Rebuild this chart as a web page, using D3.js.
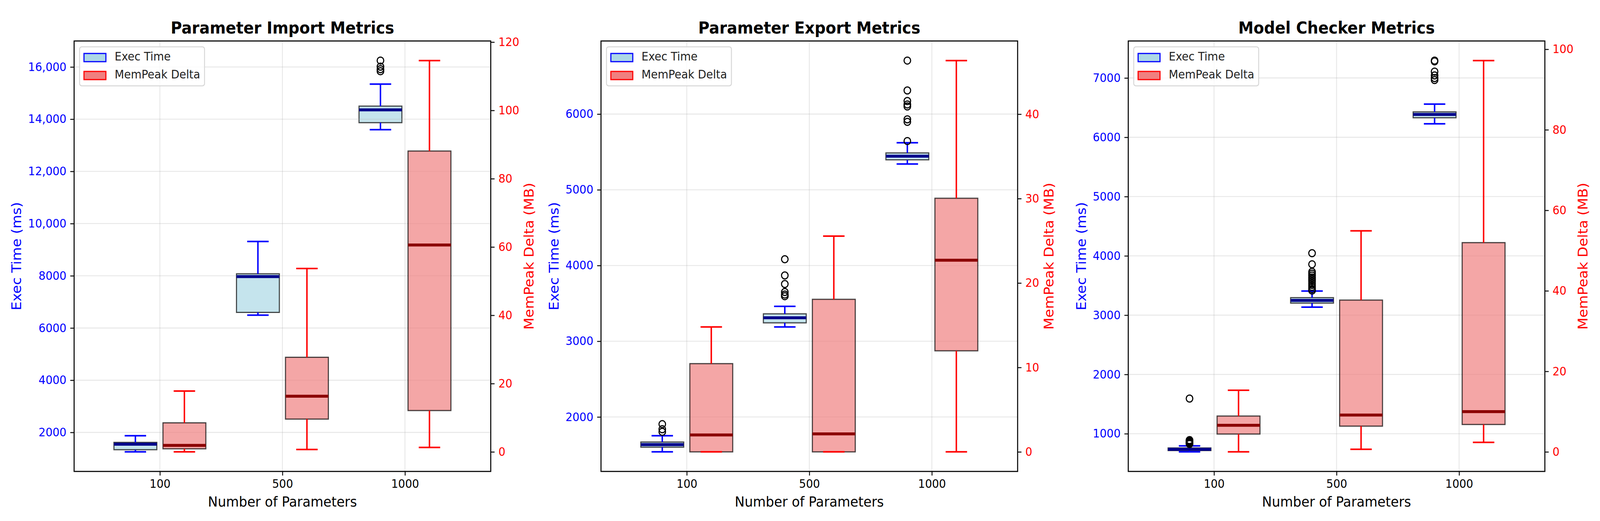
<!DOCTYPE html>
<html>
<head>
<meta charset="utf-8">
<script src="https://cdn.jsdelivr.net/npm/d3@7"></script>
<style>
  html, body { margin: 0; padding: 0; background: #fff; overflow: hidden; }
  #chart { display: block; width: 100vw; height: 100vh; }
  text { font-family: "DejaVu Sans", sans-serif; }
</style>
</head>
<body>
<svg id="chart" viewBox="0 0 4382 1335" preserveAspectRatio="none"></svg>
<script>
const titles = ["Parameter Import Metrics", "Parameter Export Metrics", "Model Checker Metrics"];
const categories = ["100", "500", "1000"];
const seriesNames = ["Exec Time", "MemPeak Delta"];

// box stats per category: [low whisker, q1, median, q3, high whisker]
const importExec = [[1254, 1337, 1546, 1618, 1872], [6492, 6597, 7970, 8075, 9313], [13597, 13866, 14358, 14500, 15343]];
const importExecFliers = [[], [], [16246, 16013, 15917, 15836]];
const importMem = [[0, 0.9, 1.9, 8.5, 17.8], [0.7, 9.6, 16.3, 27.7, 53.7], [1.3, 12.1, 60.6, 88.1, 114.6]];
const importMemFliers = [[], [], []];

const exportExec = [[1539, 1601, 1635, 1669, 1752], [3189, 3243, 3310, 3362, 3461], [5340, 5396, 5444, 5487, 5621]];
const exportExecFliers = [[1905, 1838, 1804], [4083, 3869, 3756, 3650, 3617, 3595], [6707, 6312, 6173, 6127, 6101, 5931, 5897, 5644]];
const exportMem = [[0, 0, 2.0, 10.45, 14.8], [0, 0, 2.13, 18.07, 25.55], [0, 11.97, 22.7, 30.04, 46.35]];
const exportMemFliers = [[], [], []];

const checkerExec = [[694, 716, 737, 760, 795], [3135, 3203, 3249, 3295, 3406], [6227, 6329, 6385, 6428, 6560]];
const checkerExecFliers = [
  [1593, 893, 880, 868, 855, 845, 835, 827],
  [4045, 3858, 3731, 3700, 3668, 3636, 3604, 3572, 3540, 3508, 3476, 3440, 3415],
  [7294, 7280, 7108, 7043, 6999, 6966]
];
const checkerMem = [[0, 4.43, 6.6, 8.9, 15.3], [0.63, 6.39, 9.14, 37.7, 54.9], [2.37, 6.8, 9.99, 51.97, 97.2]];
const checkerMemFliers = [[], [], []];

const importExecTicks = [2000, 4000, 6000, 8000, 10000, 12000, 14000, 16000];
const importExecTickLabels = ["2000", "4000", "6000", "8000", "10,000", "12,000", "14,000", "16,000"];
const importMemTicks = [0, 20, 40, 60, 80, 100, 120];
const exportExecTicks = [2000, 3000, 4000, 5000, 6000];
const exportExecTickLabels = ["2000", "3000", "4000", "5000", "6000"];
const exportMemTicks = [0, 10, 20, 30, 40];
const checkerExecTicks = [1000, 2000, 3000, 4000, 5000, 6000, 7000];
const checkerExecTickLabels = ["1000", "2000", "3000", "4000", "5000", "6000", "7000"];
const checkerMemTicks = [0, 20, 40, 60, 80, 100];

const panels = [
  {title: titles[0], exec: importExec, execFliers: importExecFliers, mem: importMem, memFliers: importMemFliers,
   execTicks: importExecTicks, execLabels: importExecTickLabels, memTicks: importMemTicks},
  {title: titles[1], exec: exportExec, execFliers: exportExecFliers, mem: exportMem, memFliers: exportMemFliers,
   execTicks: exportExecTicks, execLabels: exportExecTickLabels, memTicks: exportMemTicks},
  {title: titles[2], exec: checkerExec, execFliers: checkerExecFliers, mem: checkerMem, memFliers: checkerMemFliers,
   execTicks: checkerExecTicks, execLabels: checkerExecTickLabels, memTicks: checkerMemTicks}
];

const svg = d3.select("#chart");
const plotTop = 105, plotBottom = 1208, plotWidth = 1141;
const panelLefts = [203, 1646, 3090];
const boxWidth = 0.35, boxShift = 0.2;
const tickFont = 30, labelFont = 36, titleFont = 42;

// matplotlib-like autoscale: data extent + 5% margin
function paddedExtent(stats, fliers) {
  const all = stats.flat().concat(fliers.flat());
  const [a, b] = d3.extent(all);
  const m = (b - a) * 0.05;
  return [a - m, b + m];
}

function boxData(stats, fliers) {
  return stats.map((s, i) => ({pos: i + 1, lo: s[0], q1: s[1], med: s[2], q3: s[3], hi: s[4], fliers: fliers[i]}));
}

function drawPatches(layer, data, x, y, shift, fill) {
  layer.selectAll(null).data(data).join("rect")
    .attr("x", d => x(d.pos + shift - boxWidth / 2))
    .attr("width", d => x(d.pos + shift + boxWidth / 2) - x(d.pos + shift - boxWidth / 2))
    .attr("y", d => y(d.q3))
    .attr("height", d => y(d.q1) - y(d.q3))
    .attr("fill", fill).attr("fill-opacity", 0.7)
    .attr("stroke", "#000").attr("stroke-opacity", 0.7).attr("stroke-width", 3);
}

function drawLines(layer, data, x, y, shift, color, medianColor) {
  const cx = d => x(d.pos + shift);
  layer.selectAll(null).data(data.flatMap(d => [[d, d.q1, d.lo], [d, d.q3, d.hi]])).join("line")
    .attr("x1", e => cx(e[0])).attr("x2", e => cx(e[0]))
    .attr("y1", e => y(e[1])).attr("y2", e => y(e[2]))
    .attr("stroke", color).attr("stroke-width", 4);
  layer.selectAll(null).data(data.flatMap(d => [[d, d.lo], [d, d.hi]])).join("line")
    .attr("x1", e => x(e[0].pos + shift - boxWidth / 4))
    .attr("x2", e => x(e[0].pos + shift + boxWidth / 4))
    .attr("y1", e => y(e[1])).attr("y2", e => y(e[1]))
    .attr("stroke", color).attr("stroke-width", 4);
  layer.selectAll(null).data(data).join("line")
    .attr("x1", d => x(d.pos + shift - boxWidth / 2))
    .attr("x2", d => x(d.pos + shift + boxWidth / 2))
    .attr("y1", d => y(d.med)).attr("y2", d => y(d.med))
    .attr("stroke", medianColor).attr("stroke-width", 7.5);
  layer.selectAll(null).data(data.flatMap(d => d.fliers.map(v => [d, v]))).join("circle")
    .attr("cx", e => cx(e[0])).attr("cy", e => y(e[1]))
    .attr("r", 9).attr("fill", "none").attr("stroke", "#000").attr("stroke-width", 3);
}

function styleAxis(g, color) {
  g.select(".domain").remove();
  g.selectAll(".tick line").attr("stroke", "#000").attr("stroke-width", 2.4);
  g.selectAll(".tick text").attr("fill", color).attr("font-size", tickFont)
    .attr("font-family", "DejaVu Sans");
}

panels.forEach((p, i) => {
  const left = panelLefts[i], right = left + plotWidth;
  const g = svg.append("g");

  const x = d3.scaleLinear().domain([0.3, 3.7]).range([left, right]);
  const yL = d3.scaleLinear().domain(paddedExtent(p.exec, p.execFliers)).range([plotBottom, plotTop]);
  const yR = d3.scaleLinear().domain(paddedExtent(p.mem, p.memFliers)).range([plotBottom, plotTop]);

  const execData = boxData(p.exec, p.execFliers);
  const memData = boxData(p.mem, p.memFliers);

  drawPatches(g.append("g"), execData, x, yL, -boxShift, "lightblue");

  // grid
  const grid = g.append("g").attr("stroke", "#b0b0b0").attr("stroke-opacity", 0.3).attr("stroke-width", 2.4);
  grid.selectAll(null).data(p.execTicks).join("line")
    .attr("x1", left).attr("x2", right).attr("y1", d => yL(d)).attr("y2", d => yL(d));
  grid.selectAll(null).data(categories).join("line")
    .attr("x1", (d, j) => x(j + 1)).attr("x2", (d, j) => x(j + 1))
    .attr("y1", plotTop).attr("y2", plotBottom);

  drawLines(g.append("g"), execData, x, yL, -boxShift, "#0000ff", "#00008b");

  drawPatches(g.append("g"), memData, x, yR, boxShift, "lightcoral");
  drawLines(g.append("g"), memData, x, yR, boxShift, "#ff0000", "#8b0000");

  // axes
  const axL = g.append("g").attr("transform", `translate(${left},0)`)
    .call(d3.axisLeft(yL).tickValues(p.execTicks).tickFormat((d, j) => p.execLabels[j]).tickSize(10.5).tickPadding(10.5));
  styleAxis(axL, "#0000ff");
  const axR = g.append("g").attr("transform", `translate(${right},0)`)
    .call(d3.axisRight(yR).tickValues(p.memTicks).tickFormat(d3.format("d")).tickSize(10.5).tickPadding(10.5));
  styleAxis(axR, "#ff0000");
  const axB = g.append("g").attr("transform", `translate(0,${plotBottom})`)
    .call(d3.axisBottom(x).tickValues([1, 2, 3]).tickFormat((d, j) => categories[j]).tickSize(10.5).tickPadding(10.5));
  styleAxis(axB, "#000");

  g.append("rect").attr("x", left).attr("y", plotTop).attr("width", plotWidth).attr("height", plotBottom - plotTop)
    .attr("fill", "none").attr("stroke", "#000").attr("stroke-width", 2.8);

  // titles and labels
  const midX = (left + right) / 2, midY = (plotTop + plotBottom) / 2;
  g.append("text").attr("x", midX).attr("y", 86).attr("text-anchor", "middle")
    .attr("font-size", titleFont).attr("font-weight", "bold").text(p.title);
  g.append("text").attr("x", midX).attr("y", 1298).attr("text-anchor", "middle")
    .attr("font-size", labelFont).text("Number of Parameters");

  const leftEdge = d3.min(axL.selectAll(".tick text").nodes(), n => n.getBBox().x) + left;
  const rightEdge = d3.max(axR.selectAll(".tick text").nodes(), n => n.getBBox().x + n.getBBox().width) + right;
  g.append("text").attr("transform", `translate(${leftEdge - 19},${midY}) rotate(-90)`)
    .attr("text-anchor", "middle").attr("font-size", labelFont).attr("fill", "#0000ff").text("Exec Time (ms)");
  g.append("text").attr("transform", `translate(${rightEdge + 39},${midY}) rotate(-90)`)
    .attr("text-anchor", "middle").attr("font-size", labelFont).attr("fill", "#ff0000").text("MemPeak Delta (MB)");

  // legend
  const lg = g.append("g").attr("transform", `translate(${left + 15},${plotTop + 15})`);
  const frame = lg.append("rect").attr("rx", 6).attr("fill", "#fff").attr("fill-opacity", 0.8)
    .attr("stroke", "#d6d6d6").attr("stroke-width", 2.5);
  const legendItems = [
    {name: seriesNames[0], fill: "lightblue", stroke: "#0000ff"},
    {name: seriesNames[1], fill: "lightcoral", stroke: "#ff0000"}
  ];
  let maxW = 0;
  legendItems.forEach((it, k) => {
    const base = 12 + 23.5 + k * 46;
    lg.append("rect").attr("x", 12).attr("y", base - 18.5).attr("width", 60).attr("height", 21)
      .attr("fill", it.fill).attr("stroke", it.stroke).attr("stroke-width", 3);
    const t = lg.append("text").attr("x", 96).attr("y", base).attr("font-size", tickFont)
      .attr("fill", "#222").text(it.name);
    maxW = Math.max(maxW, t.node().getComputedTextLength());
  });
  frame.attr("width", 96 + maxW + 12).attr("height", 100);
});
</script>
</body>
</html>
